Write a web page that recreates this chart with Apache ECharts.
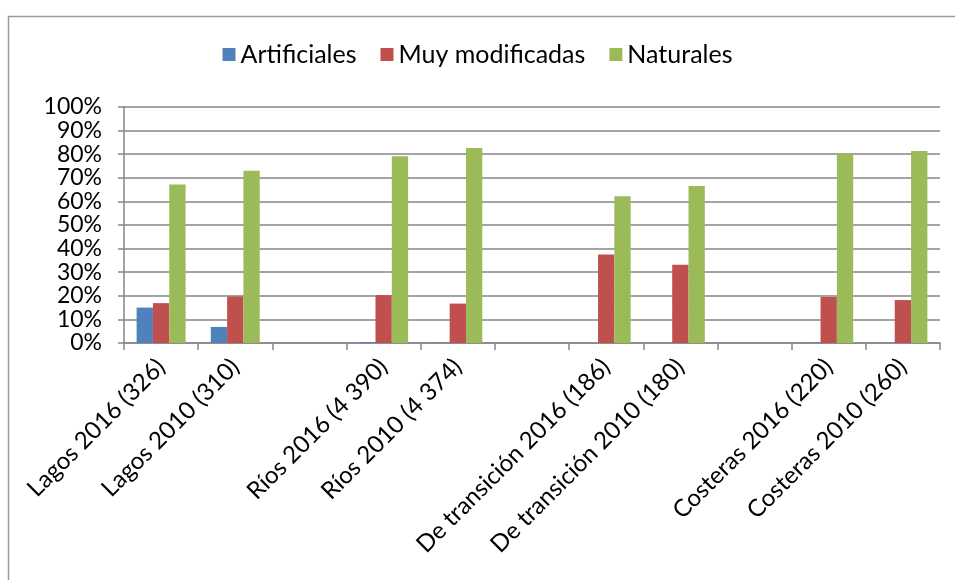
<!DOCTYPE html>
<html>
<head>
<meta charset="utf-8">
<script src="https://cdn.jsdelivr.net/npm/echarts@6/dist/echarts.min.js"></script>
<style>
  html, body { margin: 0; padding: 0; background: #fff; }
  #chart { width: 955px; height: 580px; }
</style>
</head>
<body>
<div id="chart"></div>
<script>
// categorias (con huecos vacios entre grupos, como en el original)
const categories = [
  'Lagos 2016 (326)', 'Lagos 2010 (310)', '',
  'Ríos 2016 (4 390)', 'Ríos 2010 (4 374)', '',
  'De transición 2016 (186)', 'De transición 2010 (180)', '',
  'Costeras 2016 (220)', 'Costeras 2010 (260)'
]
const artificiales = [15.0, 6.8, null, 0.4, 0.2, null, 0, 0, null, 0.2, 0]
const muyModificadas = [16.9, 19.7, null, 20.3, 16.7, null, 37.5, 33.2, null, 19.5, 18.2]
const naturales = [67.2, 73.0, null, 79.1, 82.6, null, 62.2, 66.5, null, 80.2, 81.4]

const axisGray = '#868686'
const font = 'Lato, "Liberation Sans", sans-serif'

const chart = echarts.init(document.getElementById('chart'))
chart.setOption({
  animation: false,
  textStyle: { fontFamily: font },
  graphic: [{
    type: 'rect',
    left: 6,
    top: 14,
    shape: { width: 1000, height: 700 },
    style: { fill: 'none', stroke: '#9a9a9a', lineWidth: 1.5 },
    silent: true
  }],
  legend: {
    top: 37,
    left: 'center',
    itemWidth: 13,
    itemHeight: 13,
    itemGap: 24,
    icon: 'rect',
    textStyle: { fontSize: 25, color: '#000', fontFamily: font, padding: [0, 0, 0, 0] },
    data: ['Artificiales', 'Muy modificadas', 'Naturales']
  },
  grid: {
    left: 124,
    right: 15,
    top: 107,
    bottom: 237
  },
  xAxis: {
    type: 'category',
    data: categories,
    axisLine: { lineStyle: { color: axisGray, width: 1.5 } },
    axisTick: { show: true, length: 7, lineStyle: { color: axisGray, width: 1.5 } },
    axisLabel: {
      interval: 0,
      rotate: 45,
      margin: 20,
      color: '#000',
      fontSize: 24,
      fontFamily: font
    }
  },
  yAxis: {
    type: 'value',
    min: 0,
    max: 100,
    interval: 10,
    axisLine: { show: true, lineStyle: { color: axisGray, width: 1.5 } },
    axisTick: { show: true, length: 6, lineStyle: { color: axisGray, width: 1.5 } },
    axisLabel: {
      formatter: '{value}%',
      color: '#000',
      fontSize: 23,
      lineHeight: 18,
      margin: 22,
      showMinLabel: true,
      showMaxLabel: true,
      fontFamily: font
    },
    splitLine: { lineStyle: { color: axisGray, width: 1.5 } }
  },
  series: [
    {
      name: 'Artificiales',
      type: 'bar',
      barGap: '0%',
      barCategoryGap: '34%',
      itemStyle: { color: '#4F81BD' },
      data: artificiales
    },
    {
      name: 'Muy modificadas',
      type: 'bar',
      barGap: '0%',
      barCategoryGap: '34%',
      itemStyle: { color: '#C0504D' },
      data: muyModificadas
    },
    {
      name: 'Naturales',
      type: 'bar',
      barGap: '0%',
      barCategoryGap: '34%',
      itemStyle: { color: '#9BBB59' },
      data: naturales
    }
  ]
})
</script>
</body>
</html>
